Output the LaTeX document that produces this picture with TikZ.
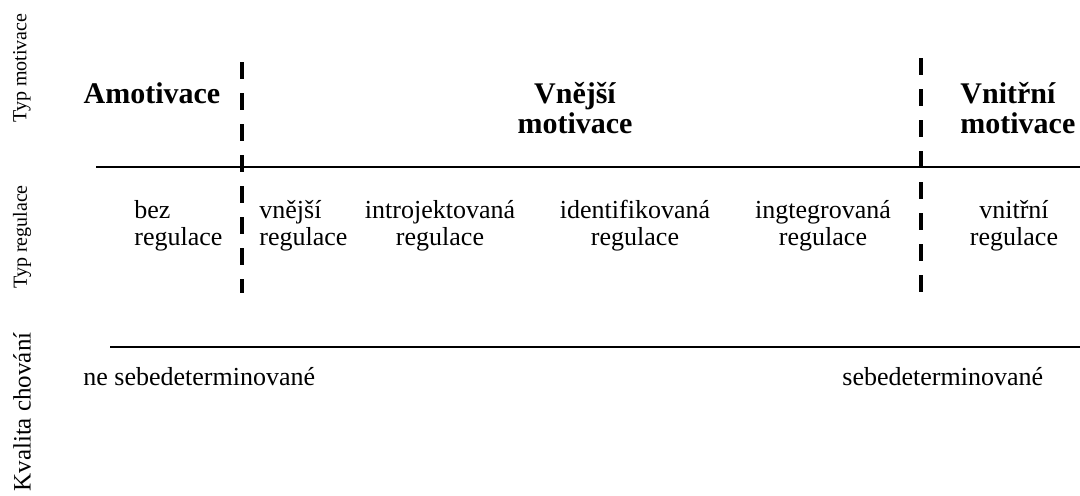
\documentclass[tikz,border=0pt]{standalone}
\usepackage{fontspec}
\setmainfont{Liberation Serif}
\usetikzlibrary{positioning}

\begin{document}
\begin{tikzpicture}[
x=0.5pt, y=-0.5pt,
head/.style={font=\fontsize{15}{15}\selectfont\bfseries, align=center, anchor=base, inner sep=0pt},
reg/.style={font=\fontsize{13}{13.5}\selectfont, align=center, anchor=base, inner sep=0pt},
side/.style={font=\fontsize{10}{12}\selectfont, rotate=90, inner sep=0pt},
sep/.style={line width=2pt, dash pattern=on 8.5pt off 7pt},
axis/.style={line width=0.9pt}
]
\useasboundingbox (0,0) rectangle (1080,495);
% row labels
\node[side] (lmot) at (22,68) {Typ motivace};
\node[side] (lreg) at (22,237) {Typ regulace};
\node[side, font=\fontsize{12.5}{14}\selectfont] (lkva) at (22,412) {Kvalita chování};
% motivation types (base = last line)
\node[head] (amot) at (152,103) {Amotivace};
\node[head] (vnej) at (575,133) {Vnější\\motivace};
\node[head, align=left, anchor=base west] (vnit) at (960,133) {Vnitřní\\motivace};
% regulation types
\node[reg, align=left, anchor=base west] (bez) at (134,245) {bez\\regulace};
\node[reg, align=left, anchor=base west] (rvnej) at (259,245) {vnější\\regulace};
\node[reg] (intro) at (440,245) {introjektovaná\\regulace};
\node[reg] (ident) at (635,245) {identifikovaná\\regulace};
\node[reg] (integ) at (823,245) {ingtegrovaná\\regulace};
\node[reg] (rvnit) at (1014,245) {vnitřní\\regulace};
% quality of behaviour
\node[reg, anchor=base west] (nesd) at (83,385) {ne sebedeterminované};
\node[reg, anchor=base west] (sd) at (842,385) {sebedeterminované};
% lines
\coordinate (t1) at (96,167);
\coordinate (t2) at (1080,167);
\coordinate (b1) at (110,347);
\coordinate (b2) at (1080,347);
\draw[axis] (t1) -- (t2);
\draw[axis] (b1) -- (b2);
\draw[sep] (242,62) -- (242,293);
\draw[sep] (921,58) -- (921,293);
\end{tikzpicture}
\end{document}
